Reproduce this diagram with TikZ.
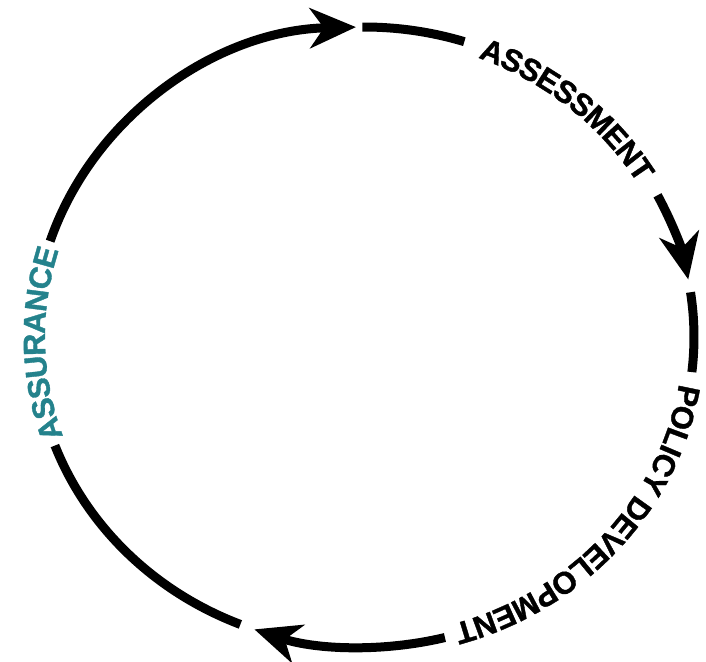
\documentclass[tikz,border=0pt]{standalone}
\usepackage{fontspec}
\setmainfont{Liberation Sans}[BoldFeatures={FakeBold=1.2}]
\usetikzlibrary{arrows.meta,decorations.text}
\definecolor{assurteal}{RGB}{36,130,140}
\newcommand{\cyclefont}{\bfseries\fontsize{31}{31}\selectfont}

\begin{document}
\begin{tikzpicture}
  [x=1pt,y=1pt,
   ring/.style={line width=9pt},
   ringarrow/.style={ring,-{Stealth[length=46pt,width=40pt,inset=14pt]}},
   ringtext/.style 2 args={decorate,decoration={text along path,text align=center,
     raise=-11pt,text color=#2,text={|\cyclefont|#1}}}]
  \useasboundingbox (0,0) rectangle (706,661);
  \coordinate (centre) at (364,324);
  % arrows and segments, clockwise from the left
  \draw[ringarrow] (centre) ++(162:330 and 310)
    arc[start angle=162,end angle=91.4,x radius=330,y radius=310];
  \draw[ring] (centre) ++(90.3:330 and 310)
    arc[start angle=90.3,end angle=72.3,x radius=330,y radius=310];
  \draw[ringarrow] (centre) ++(27.2:330 and 310)
    arc[start angle=27.2,end angle=10.7,x radius=330,y radius=310];
  \draw[ring] (centre) ++(8.3:330 and 310)
    arc[start angle=8.3,end angle=-6.5,x radius=330,y radius=310];
  \draw[ringarrow] (centre) ++(-75.8:330 and 310)
    arc[start angle=-75.8,end angle=-109.4,x radius=330,y radius=310];
  \draw[ring] (centre) ++(-112:330 and 310)
    arc[start angle=-112,end angle=-159.5,x radius=330,y radius=310];
  % labels on the ring
  \path[ringtext={ASSESSMENT}{black}] (centre) ++(80:330 and 310)
    arc[start angle=80,end angle=19.5,x radius=330,y radius=310];
  \path[ringtext={POLICY DEVELOPMENT}{black}] (centre) ++(0:330 and 310)
    arc[start angle=0,end angle=-82.3,x radius=330,y radius=310];
  \path[ringtext={ASSURANCE}{assurteal}] (centre) ++(206:330 and 310)
    arc[start angle=206,end angle=156.5,x radius=330,y radius=310];
\end{tikzpicture}
\end{document}
